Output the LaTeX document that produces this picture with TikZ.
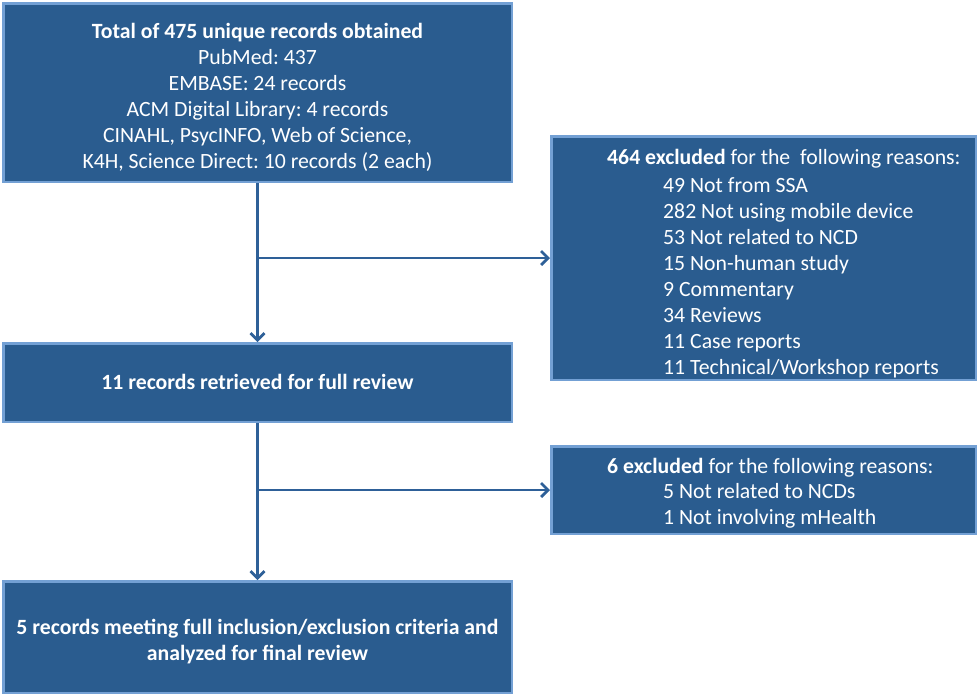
\documentclass[tikz,border=0pt]{standalone}
\usepackage{fontspec}
\setmainfont{Carlito}
\frenchspacing
\usetikzlibrary{arrows.meta}
\definecolor{boxfill}{RGB}{42,92,143}
\definecolor{boxedge}{RGB}{115,160,212}
\definecolor{arrowcol}{RGB}{46,96,152}
\tikzset{
  flowbox/.style={draw=boxedge, line width=2.5pt, fill=boxfill, inner sep=0pt},
  boxtext/.style={text=white, inner sep=0pt, font=\fontsize{21.75}{26}\selectfont\frenchspacing},
  boldtext/.style={boxtext, font=\fontsize{21.75}{26}\selectfont\frenchspacing\bfseries},
  conn/.style={draw=arrowcol, line width=2.8pt, -{Straight Barb[length=7pt,width=14pt,line width=2.8pt]}}
}
\begin{document}
\begin{tikzpicture}[x=1pt,y=-1pt]
\useasboundingbox (0,0) rectangle (980,697);
% boxes
\node[flowbox, minimum width=508.5pt, minimum height=178.5pt] (b1) at (257.5,92.5) {};
\node[flowbox, minimum width=424.5pt, minimum height=243.5pt] (b2) at (763.5,258) {};
\node[flowbox, minimum width=508.5pt, minimum height=78.5pt] (b3) at (257.5,382.5) {};
\node[flowbox, minimum width=424.5pt, minimum height=87.5pt] (b4) at (763.5,490) {};
\node[flowbox, minimum width=508.5pt, minimum height=111.5pt] (b5) at (257.5,637) {};
% texts
\node[boxtext, align=center] (t1) at (257.5,97) {\textbf{Total of 475 unique records obtained}\\PubMed: 437\\EMBASE: 24 records\\ACM Digital Library: 4 records\\CINAHL, PsycINFO, Web of Science,\\K4H, Science Direct: 10 records (2 each)};
\node[boxtext, anchor=base west] (t2a) at (607,164) {\textbf{464 excluded} for the\ \ following reasons:};
\node[boxtext, anchor=north west, align=left] (t2b) at (663,177) {49 Not from SSA\\282 Not using mobile device\\53 Not related to NCD\\15 Non-human study\\9 Commentary\\34 Reviews\\11 Case reports\\11 Technical/Workshop reports};
\node[boldtext] (t3) at (257.5,382) {11 records retrieved for full review};
\node[boxtext, anchor=base west] (t4a) at (607,473) {\textbf{6 excluded} for the following reasons:};
\node[boxtext, anchor=north west, align=left] (t4b) at (663,483) {5 Not related to NCDs\\1 Not involving mHealth};
\node[boldtext, align=center] (t5) at (257.5,642) {5 records meeting full inclusion/exclusion criteria and\\analyzed for final review};
% connectors
\coordinate (j1) at (b1.south |- b2.west);
\coordinate (j2) at (b3.south |- b4.west);
\draw[conn] (b1.south) -- (b3.north);
\draw[conn] (j1) -- (b2.west);
\draw[conn] (b3.south) -- (b5.north);
\draw[conn] (j2) -- (b4.west);
\end{tikzpicture}
\end{document}
